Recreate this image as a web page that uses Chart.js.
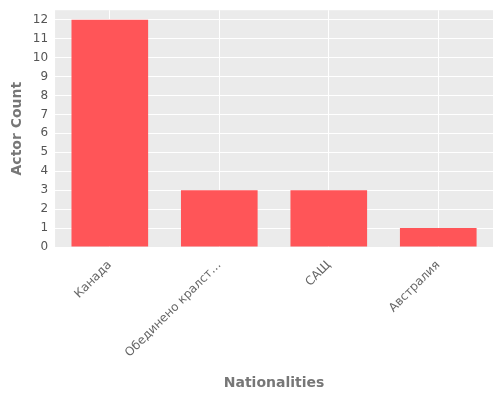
<!doctype html>
<html lang="en">
<head>
<meta charset="utf-8">
<title>Actors</title>
<style>body{margin:0;background:#fff}</style>
</head>
<body>
<canvas id="myChart" width="500" height="400"></canvas>
<script src="https://cdn.jsdelivr.net/npm/chart.js@4"></script>
<script>
var nationalities = ['Канада', 'Обединено кралст…', 'САЩ', 'Австралия'];
var actorCounts = [12, 3, 3, 1];
var yTicks = [0, 1, 2, 3, 4, 5, 6, 7, 8, 9, 10, 11, 12];

// grey panel behind the plot, ggplot style
var panelBg = {
  id: 'panelBg',
  beforeDraw: function(c) {
    var a = c.chartArea, ctx = c.ctx;
    ctx.save();
    ctx.fillStyle = '#EBEBEB';
    ctx.fillRect(a.left, a.top, a.right - a.left, a.bottom - a.top);
    ctx.restore();
  }
};

var ctx = document.getElementById('myChart').getContext('2d');
var chart = new Chart(ctx, {
  type: 'bar',
  data: {
    labels: nationalities,
    datasets: [{
      data: actorCounts,
      backgroundColor: '#FF5558',
      barPercentage: 0.7,
      categoryPercentage: 1
    }]
  },
  options: {
    responsive: false,
    animation: false,
    layout: {padding: {top: 10, right: 7, left: 5, bottom: 4}},
    plugins: {legend: {display: false}, tooltip: {enabled: false}},
    scales: {
      x: {
        grid: {color: '#FFFFFF', offset: false, tickColor: '#FFFFFF'},
        border: {display: false},
        ticks: {color: '#666', font: {family: 'DejaVu Sans', size: 12}, maxRotation: 45, minRotation: 45, autoSkip: false},
        title: {display: true, text: 'Nationalities', color: '#777', font: {family: 'DejaVu Sans', size: 14, weight: 'bold'}, padding: {top: 12}}
      },
      y: {
        min: 0, max: 12.5,
        afterBuildTicks: function(s) { s.ticks = yTicks.map(function(v){return {value: v};}); },
        grid: {color: '#FFFFFF', tickColor: '#FFFFFF', tickLength: 4},
        border: {display: false},
        ticks: {color: '#555', font: {family: 'DejaVu Sans', size: 12}},
        title: {display: true, text: 'Actor Count', color: '#777', font: {family: 'DejaVu Sans', size: 14, weight: 'bold'}}
      }
    }
  },
  plugins: [panelBg]
});
</script>
</body>
</html>
